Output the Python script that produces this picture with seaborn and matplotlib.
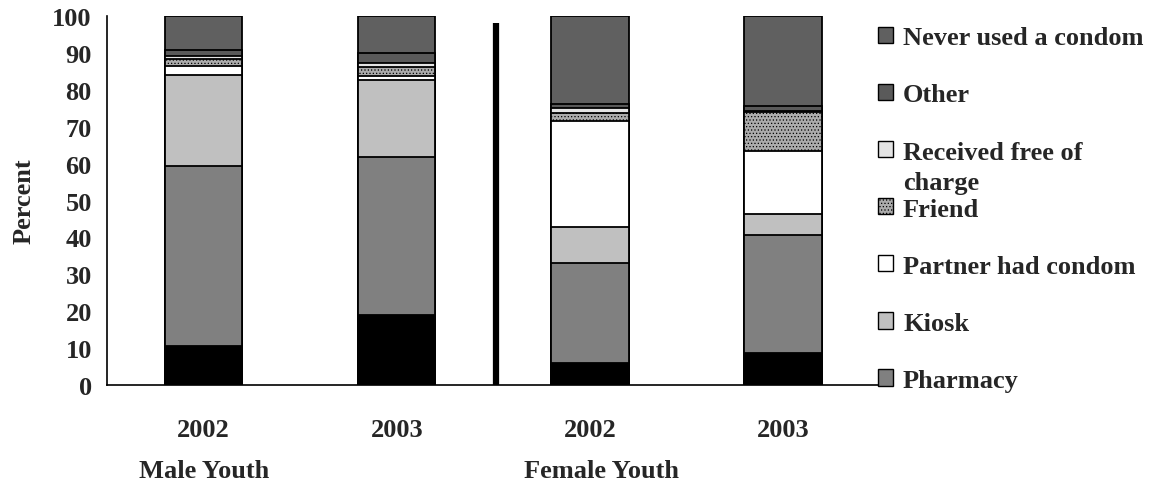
import numpy as np
import pandas as pd
import matplotlib
matplotlib.use('Agg')
import matplotlib.pyplot as plt
import seaborn as sns
from matplotlib.patches import Patch
from matplotlib.transforms import blended_transform_factory

sns.set_style('white')
plt.rcParams['font.family'] = ['Liberation Serif', 'DejaVu Serif']
plt.rcParams['font.weight'] = 'bold'
plt.rcParams['hatch.color'] = '#7a7a7a'
plt.rcParams['hatch.linewidth'] = 0.5

FS = 19

# 数据：各柱从下往上的分段百分比
bar_keys = ['M2002', 'M2003', 'F2002', 'F2003']
year_labels = ['2002', '2003', '2002', '2003']
groups = ['Male Youth', 'Female Youth']

segments = ['(unlabelled)', 'Pharmacy', 'Kiosk', 'Partner had condom', 'Friend',
            'Received free of', 'Other', 'Never used a condom']
unlabelled = [10.5, 19.0, 6.1, 8.7]
pharmacy = [48.8, 42.8, 27.1, 32.0]
kiosk = [24.7, 20.9, 9.6, 5.6]
partner = [2.4, 1.1, 28.7, 17.2]
friend = [2.1, 2.5, 2.2, 10.4]
received_free = [0.8, 0.9, 1.4, 0.4]
other = [1.6, 2.9, 1.0, 1.4]
never_used = [9.1, 9.9, 23.9, 24.3]

colors = ['#000000', '#808080', '#c0c0c0', '#ffffff', '#ababab', '#e4e4e4', '#5a5a5a', '#606060']
hatches = [None, None, None, None, '.....', None, None, None]

values = np.array([unlabelled, pharmacy, kiosk, partner, friend, received_free, other, never_used])
cum = np.cumsum(values, axis=0)
df = pd.DataFrame(cum.T, index=bar_keys, columns=segments).reset_index(names='bar')

fig, ax = plt.subplots(figsize=(11.56, 4.89), dpi=100)
fig.subplots_adjust(left=0.0926, right=0.761, bottom=0.2106, top=0.965)

# 累计高度从上到下叠画，形成堆积效果
for i in range(len(segments) - 1, -1, -1):
    sns.barplot(data=df, x='bar', y=segments[i], order=bar_keys, color=colors[i],
                width=0.4, edgecolor='#000000', linewidth=1.3, saturation=1,
                hatch=hatches[i], ax=ax)

ax.set_ylim(0, 100)
ax.set_xlim(-0.5, 3.5)
ax.set_yticks(np.arange(0, 101, 10))
ax.set_xticks(np.arange(-0.5, 3.6, 1.0))
ax.set_xticklabels([])
ax.set_xticks(np.arange(4), minor=True)
ax.set_xticklabels(year_labels, minor=True)
ax.tick_params(axis='x', which='minor', length=0, pad=24, labelsize=FS)
ax.tick_params(axis='x', which='major', length=6, width=1.2, direction='out')
ax.tick_params(axis='y', length=6, width=1.2, direction='out', labelsize=FS, pad=5)
for lab in ax.get_yticklabels() + ax.get_xticklabels(minor=True):
    lab.set_fontweight('bold')
ax.set_xlabel('')
ax.set_ylabel('Percent', fontsize=FS, fontweight='bold', labelpad=12)

for side in ['top', 'right']:
    ax.spines[side].set_visible(False)
for side in ['left', 'bottom']:
    ax.spines[side].set_linewidth(1.2)
    ax.spines[side].set_color('#000000')

ax.vlines(1.515, 0, 98, color='#000000', linewidth=4.5)

trans = blended_transform_factory(ax.transData, ax.transAxes)
ax.text(0.0, -0.233, groups[0], transform=trans, ha='center', va='center',
        fontsize=FS, fontweight='bold')
ax.text(2.06, -0.233, groups[1], transform=trans, ha='center', va='center',
        fontsize=FS, fontweight='bold')

legend_order = [7, 6, 5, 4, 3, 2, 1]
handles = [Patch(facecolor=colors[i], edgecolor='#000000', linewidth=1.0,
                 hatch=hatches[i], label=segments[i]) for i in legend_order]
leg = ax.legend(handles=handles, loc='center left', bbox_to_anchor=(0.9974, 0.477),
                frameon=False, prop={'size': FS, 'weight': 'bold'},
                labelspacing=1.29, handlelength=0.58, handleheight=0.58,
                handletextpad=0.38, borderaxespad=0, borderpad=0)

# "Received free of" 标签的第二行
fig.canvas.draw()
bb = leg.get_texts()[2].get_window_extent()
x0, yc = fig.transFigure.inverted().transform((bb.x0, (bb.y0 + bb.y1) / 2 - 30))
fig.text(x0, yc, 'charge', ha='left', va='center', fontsize=FS, fontweight='bold')

fig.savefig('out.png', dpi=100)
